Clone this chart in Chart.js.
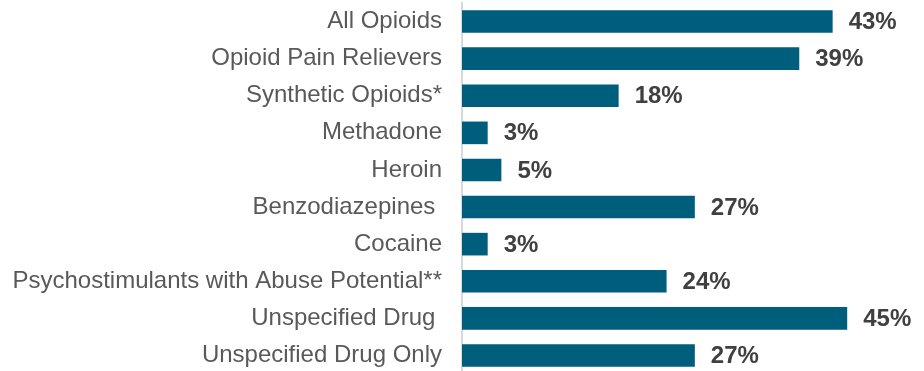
<!DOCTYPE html>
<html>
<head>
<meta charset="utf-8">
<script src="https://cdn.jsdelivr.net/npm/chart.js@4/dist/chart.umd.min.js"></script>
<style>
html,body{margin:0;padding:0;background:#fff;overflow:hidden;}
canvas{display:block;}
</style>
</head>
<body>
<canvas id="c" width="924" height="374" style="width:924px;height:374px;"></canvas>
<script>
const categories = ["All Opioids","Opioid Pain Relievers","Synthetic Opioids*","Methadone","Heroin","Benzodiazepines ","Cocaine","Psychostimulants with Abuse Potential**","Unspecified Drug ","Unspecified Drug Only"];
const values = [43.3,39.4,18.3,3.0,4.6,27.2,3.0,23.9,45.0,27.2];
const valueLabels = ["43%","39%","18%","3%","5%","27%","3%","24%","45%","27%"];

const barColor = "#005e7d";

const valueLabelPlugin = {
  id: "valueLabels",
  afterDatasetsDraw(chart) {
    const ctx = chart.ctx;
    const meta = chart.getDatasetMeta(0);
    ctx.save();
    ctx.font = "bold 24px 'Liberation Sans', Arial, sans-serif";
    ctx.fillStyle = "#404040";
    ctx.textAlign = "left";
    ctx.textBaseline = "middle";
    meta.data.forEach((bar, i) => {
      ctx.fillText(valueLabels[i], bar.x + 16, bar.y + 1);
    });
    ctx.restore();
  }
};

new Chart(document.getElementById("c"), {
  type: "bar",
  data: {
    labels: categories,
    datasets: [{
      data: values,
      backgroundColor: barColor,
      borderWidth: 0,
      barPercentage: 0.61,
      categoryPercentage: 1.0
    }]
  },
  options: {
    indexAxis: "y",
    responsive: false,
    maintainAspectRatio: false,
    devicePixelRatio: 1,
    animation: false,
    layout: { padding: { top: 3, right: 34, bottom: 0, left: 0 } },
    plugins: { legend: { display: false }, tooltip: { enabled: false } },
    scales: {
      x: {
        display: false,
        min: 0,
        max: 50,
        grid: { display: false }
      },
      y: {
        afterFit(scale) { scale.width = 462; scale.paddingTop = 0; scale.paddingBottom = 0; },
        grid: { display: false, drawTicks: false },
        border: { display: true, color: "#d9d9d9", width: 2 },
        ticks: {
          color: "#595959",
          padding: 20,
          autoSkip: false,
          font: { family: "'Liberation Sans', Arial, sans-serif", size: 24 }
        }
      }
    }
  },
  plugins: [valueLabelPlugin]
});
</script>
</body>
</html>
